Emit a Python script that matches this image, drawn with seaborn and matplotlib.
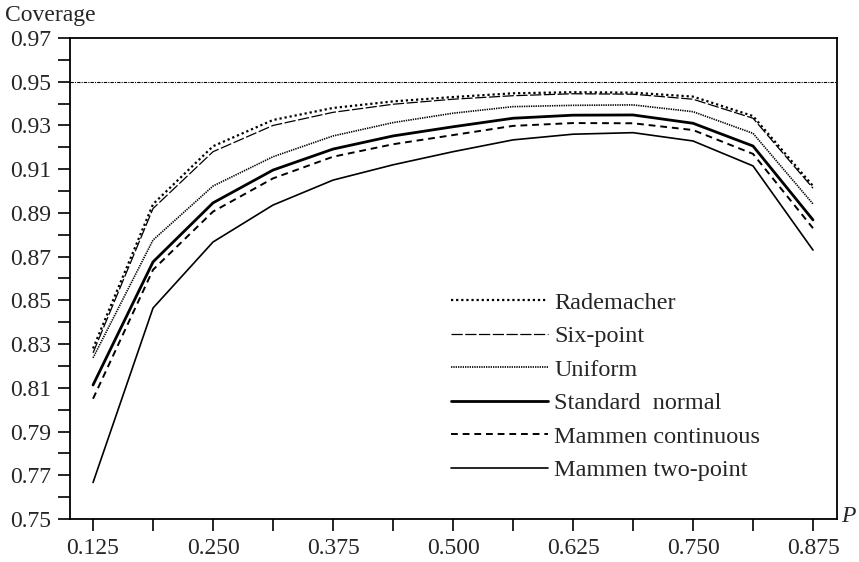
import numpy as np
import pandas as pd
import matplotlib
matplotlib.use("Agg")
import matplotlib.pyplot as plt
import seaborn as sns
from matplotlib.ticker import FixedLocator

p_values = [0.125, 0.1875, 0.25, 0.3125, 0.375, 0.4375, 0.5, 0.5625, 0.625, 0.6875, 0.75, 0.8125, 0.875]
rademacher = [0.828, 0.894, 0.9205, 0.9325, 0.938, 0.941, 0.943, 0.9447, 0.9452, 0.945, 0.9432, 0.9343, 0.9023]
six_point = [0.826, 0.892, 0.918, 0.930, 0.936, 0.9397, 0.942, 0.9436, 0.9445, 0.9443, 0.942, 0.9333, 0.9013]
uniform = [0.8237, 0.8776, 0.9023, 0.9157, 0.9252, 0.9313, 0.9356, 0.9386, 0.9392, 0.9394, 0.9363, 0.9264, 0.8941]
standard_normal = [0.8113, 0.8676, 0.8946, 0.9096, 0.9192, 0.9252, 0.9294, 0.9333, 0.9347, 0.9348, 0.931, 0.9206, 0.8868]
mammen_cont = [0.805, 0.8640, 0.8906, 0.9058, 0.9157, 0.9214, 0.9256, 0.9298, 0.9311, 0.931, 0.9279, 0.917, 0.883]
mammen_two = [0.7667, 0.8465, 0.8767, 0.8936, 0.905, 0.912, 0.918, 0.9234, 0.926, 0.9267, 0.9229, 0.9115, 0.873]
nominal = 0.95

series_names = ["Rademacher", "Six-point", "Uniform", "Standard  normal",
                "Mammen continuous", "Mammen two-point"]
series_vals = [rademacher, six_point, uniform, standard_normal, mammen_cont, mammen_two]

df = pd.DataFrame({
    "P": np.tile(p_values, len(series_names)),
    "Coverage": np.concatenate(series_vals),
    "Method": np.repeat(series_names, len(p_values)),
})

sns.set_style("ticks")
plt.rcParams["font.family"] = ["Liberation Serif", "DejaVu Serif"]

fig = plt.figure(figsize=(8.59, 5.62), dpi=100)
ax = fig.add_axes([70/859, 1-519/562, (837-70)/859, (519-38)/562])

styles = {
    "Rademacher": dict(lw=1.6, ls=(0, (1, 1.3))),
    "Six-point": dict(lw=0.9, ls=(0, (9, 2))),
    "Uniform": dict(lw=1.2, ls=(0, (0.8, 0.6))),
    "Standard  normal": dict(lw=2.0, ls="-"),
    "Mammen continuous": dict(lw=1.4, ls=(0, (3.5, 2.5))),
    "Mammen two-point": dict(lw=1.2, ls="-"),
}

ax.axhline(nominal, color="black", lw=0.8, ls=(0, (3, 1, 1, 1)))
for name in series_names:
    sub = df[df["Method"] == name]
    sns.lineplot(data=sub, x="P", y="Coverage", ax=ax, color="black",
                 linewidth=styles[name]["lw"], linestyle=styles[name]["ls"],
                 label=name, legend=False)

ax.set_xlim(0.101, 0.9)
ax.set_ylim(0.75, 0.97)
ax.xaxis.set_major_locator(FixedLocator([0.125, 0.25, 0.375, 0.5, 0.625, 0.75, 0.875]))
ax.xaxis.set_minor_locator(FixedLocator([0.1875, 0.3125, 0.4375, 0.5625, 0.6875, 0.8125]))
ax.set_xticklabels(["0.125", "0.250", "0.375", "0.500", "0.625", "0.750", "0.875"])
yt = [0.75 + 0.02*i for i in range(12)]
ax.yaxis.set_major_locator(FixedLocator(yt))
ax.yaxis.set_minor_locator(FixedLocator([0.76 + 0.02*i for i in range(11)]))
ax.set_yticklabels([f"{v:.2f}" for v in yt])

ax.tick_params(axis="both", which="both", direction="out", length=8.5, width=1.2,
               color="black", labelsize=17, pad=5)
for s in ax.spines.values():
    s.set_visible(True)
    s.set_linewidth(1.3)
    s.set_color("black")

ax.set_xlabel("")
ax.set_ylabel("")
fig.text(5/859, 1-16/562, "Coverage", fontsize=17, ha="left", va="center")
fig.text(841/859, 1-517/562, "P", fontsize=17, style="italic", ha="left", va="center")

handles, labels = ax.get_legend_handles_labels()
leg = ax.legend(handles, labels, loc="upper left", bbox_to_anchor=(0.497, 0.472),
                frameon=False, fontsize=17.5, handlelength=4.0, handletextpad=0.25,
                labelspacing=0.47, borderpad=0, borderaxespad=0)

fig.savefig("out.png", dpi=100)
